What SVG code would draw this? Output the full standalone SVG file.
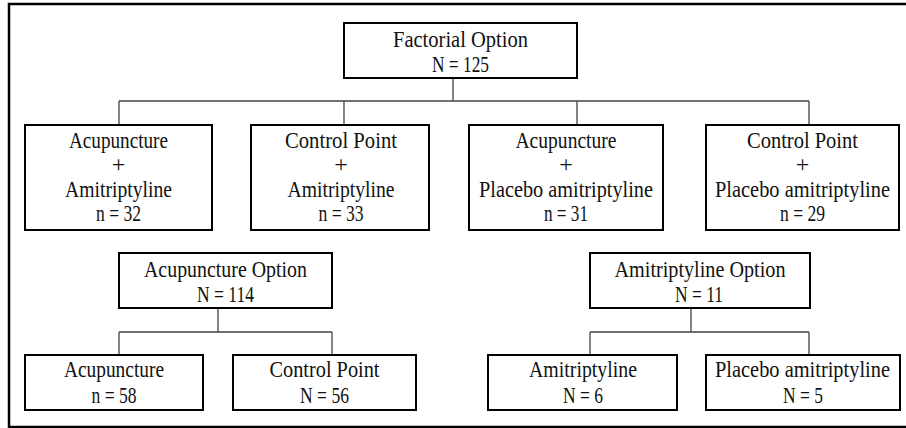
<svg xmlns="http://www.w3.org/2000/svg" width="906" height="428" viewBox="0 0 906 428">
<style>
.frame{fill:none;stroke:#000;stroke-width:2.5}
.box{fill:#fff;stroke:#000;stroke-width:2}
.conn{fill:none;stroke:#444;stroke-width:1.3}
text{font-family:"Liberation Serif","Times New Roman",serif;font-size:24px;fill:#111;text-anchor:middle}
</style>
<rect width="906" height="428" fill="#fff"/>
<path class="frame" d="M912 4 H9 V427 H912"/>
<g id="connectors">
<path class="conn" d="M453 78 V101 M119 101 H809 M119 101 V125 M344 101 V125 M577 101 V125 M809 101 V125"/>
<path class="conn" d="M218 308 V332 M119 332 H332 M119 332 V355 M332 332 V355"/>
<path class="conn" d="M691 308 V332 M590 332 H809 M590 332 V355 M809 332 V355"/>
</g>
<g id="factorial">
<rect class="box" x="344" y="23" width="233" height="55"/>
<text x="460.5" y="47" textLength="135" lengthAdjust="spacingAndGlyphs">Factorial Option</text>
<text x="460.5" y="72" textLength="57" lengthAdjust="spacingAndGlyphs">N = 125</text>
</g>
<g id="acu-ami">
<rect class="box" x="25" y="125" width="187" height="105"/>
<text x="118.5" y="148" textLength="99" lengthAdjust="spacingAndGlyphs">Acupuncture</text>
<text x="118.5" y="172">+</text>
<text x="118.5" y="197" textLength="107" lengthAdjust="spacingAndGlyphs">Amitriptyline</text>
<text x="118.5" y="221" textLength="45" lengthAdjust="spacingAndGlyphs">n = 32</text>
</g>
<g id="ctrl-ami">
<rect class="box" x="251" y="125" width="178" height="105"/>
<text x="341" y="148" textLength="112" lengthAdjust="spacingAndGlyphs">Control Point</text>
<text x="341" y="172">+</text>
<text x="341" y="197" textLength="107" lengthAdjust="spacingAndGlyphs">Amitriptyline</text>
<text x="341" y="221" textLength="45" lengthAdjust="spacingAndGlyphs">n = 33</text>
</g>
<g id="acu-placebo">
<rect class="box" x="469" y="125" width="194" height="105"/>
<text x="566" y="148" textLength="101" lengthAdjust="spacingAndGlyphs">Acupuncture</text>
<text x="566" y="172">+</text>
<text x="566" y="197" textLength="174" lengthAdjust="spacingAndGlyphs">Placebo amitriptyline</text>
<text x="566" y="221" textLength="44" lengthAdjust="spacingAndGlyphs">n = 31</text>
</g>
<g id="ctrl-placebo">
<rect class="box" x="706" y="125" width="193" height="105"/>
<text x="802.5" y="148" textLength="111" lengthAdjust="spacingAndGlyphs">Control Point</text>
<text x="802.5" y="172">+</text>
<text transform="translate(802.5 197) scale(0.85 1)">Placebo amitriptyline</text>
<text x="802.5" y="221" textLength="45" lengthAdjust="spacingAndGlyphs">n = 29</text>
</g>
<g id="acu-option">
<rect class="box" x="119" y="253" width="213" height="55"/>
<text x="225.5" y="277" textLength="163" lengthAdjust="spacingAndGlyphs">Acupuncture Option</text>
<text x="225.5" y="302" textLength="57" lengthAdjust="spacingAndGlyphs">N = 114</text>
</g>
<g id="ami-option">
<rect class="box" x="590" y="253" width="220" height="55"/>
<text x="700" y="277" textLength="171" lengthAdjust="spacingAndGlyphs">Amitriptyline Option</text>
<text x="699" y="302" textLength="48" lengthAdjust="spacingAndGlyphs">N = 11</text>
</g>
<g id="acu">
<rect class="box" x="25" y="355" width="178" height="55"/>
<text x="114" y="377" textLength="100" lengthAdjust="spacingAndGlyphs">Acupuncture</text>
<text x="114" y="403" textLength="45" lengthAdjust="spacingAndGlyphs">n = 58</text>
</g>
<g id="ctrl">
<rect class="box" x="233" y="355" width="183" height="55"/>
<text x="324.5" y="377" textLength="110" lengthAdjust="spacingAndGlyphs">Control Point</text>
<text x="324.5" y="403" textLength="49" lengthAdjust="spacingAndGlyphs">N = 56</text>
</g>
<g id="ami">
<rect class="box" x="488" y="355" width="189" height="55"/>
<text x="583" y="377" textLength="108" lengthAdjust="spacingAndGlyphs">Amitriptyline</text>
<text x="583" y="403" textLength="40" lengthAdjust="spacingAndGlyphs">N = 6</text>
</g>
<g id="placebo">
<rect class="box" x="706" y="355" width="194" height="55"/>
<text transform="translate(802.5 377) scale(0.85 1)">Placebo amitriptyline</text>
<text x="803" y="403" textLength="40" lengthAdjust="spacingAndGlyphs">N = 5</text>
</g>
</svg>
